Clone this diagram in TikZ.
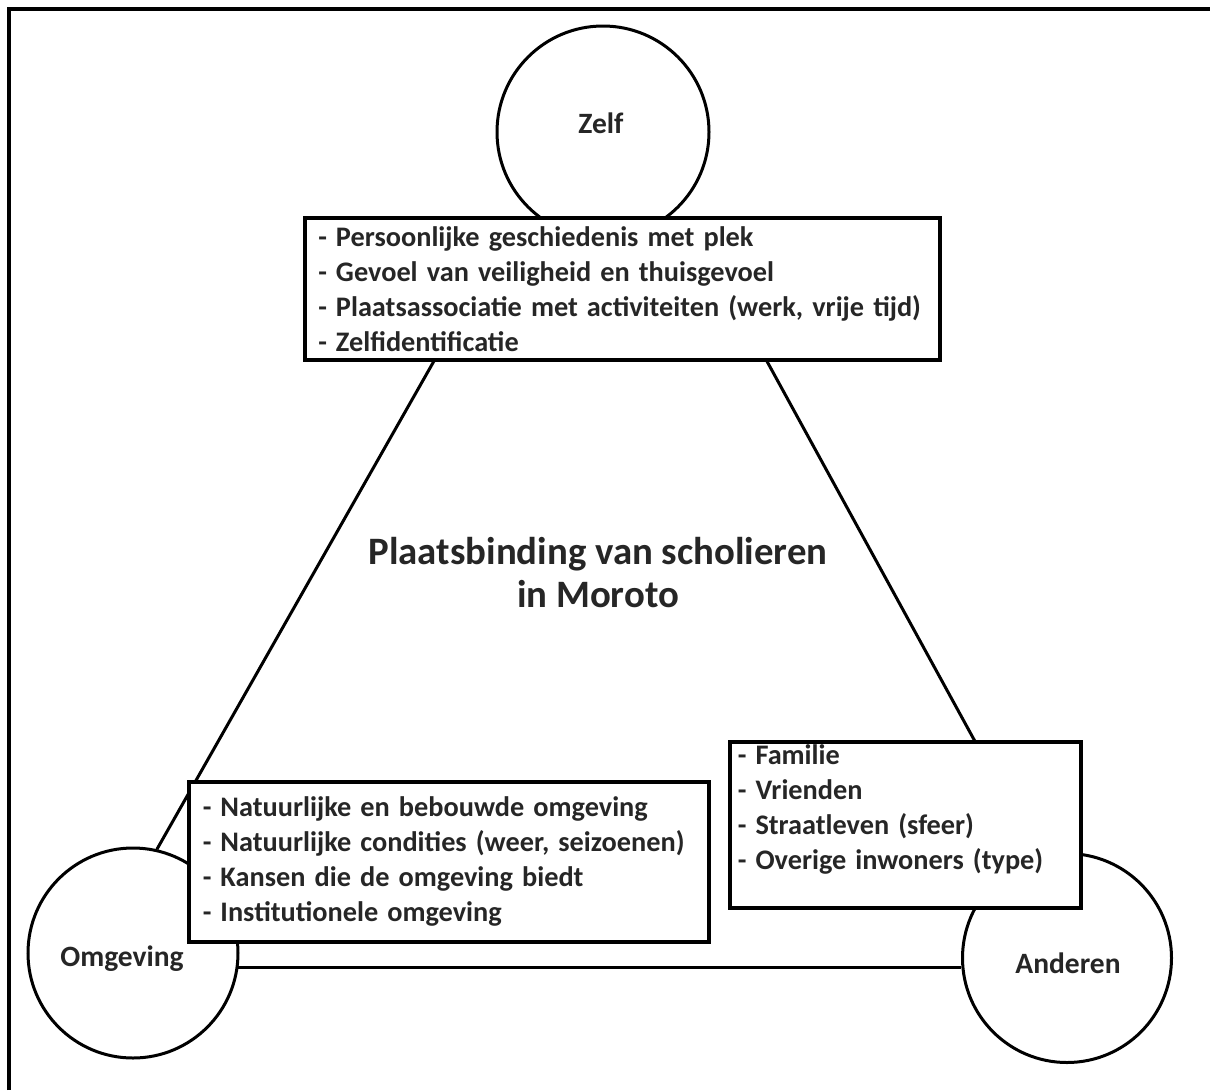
\documentclass[tikz,border=0pt]{standalone}
\usepackage{fontspec}
\usetikzlibrary{calc}
\setmainfont{Carlito}
\begin{document}
\begin{tikzpicture}[x=1pt,y=-1pt,
  circ/.style={circle, draw, line width=3pt, fill=white, minimum size=#1, inner sep=0pt},
  circlabel/.style={font=\bfseries\fontsize{29.5}{34}\selectfont, text=black!85, inner sep=0pt},
  listbox/.style={draw, line width=3.5pt, fill=white, anchor=north west, align=flush left,
    inner ysep=0pt, font=\bfseries\fontsize{28.3}{35}\selectfont, text=black!85,
    execute at begin node={\spaceskip=9.1pt\relax}},
  conn/.style={line width=3pt},
  frameline/.style={line width=4pt}]
\useasboundingbox (0,0) rectangle (1210,1090);
\draw[frameline] (9,1090) -- (9,9) -- (1210,9);

\node[circ=212pt] (zelf) at (603,132) {};
\node[circ=210pt] (omg) at (133,953) {};
\node[circ=209pt] (and) at (1067,958) {};
\node[circlabel] (zelfl) at (601,123) {Zelf};
\node[circlabel] (omgl) at (122,959) {Omgeving};
\node[circlabel] (andl) at (1068,963) {Anderen};

\draw[conn] ($(zelf.222.7)!0.1!(omg.77.5)$) -- (omg.77.5);
\draw[conn] ($(zelf.317)!0.1!(and.106)$) -- (and.106);
\draw[conn] (omg.-8) -- (omg.-8 -| and.west);

\node[listbox, minimum width=635pt, minimum height=142pt, inner xsep=13.5pt, text width=608pt] (tbox) at (303,216)
  {- Persoonlijke geschiedenis met plek\\
   - Gevoel van veiligheid en thuisgevoel\\
   - Plaatsassociatie met activiteiten (werk, vrije tijd)\\
   - Zelfidentificatie};
\node[listbox, minimum width=520pt, minimum height=160pt, inner xsep=14pt, text width=492pt] (lbox) at (187,780)
  {- Natuurlijke en bebouwde omgeving\\
   - Natuurlijke condities (weer, seizoenen)\\
   - Kansen die de omgeving biedt\\
   - Institutionele omgeving};
\node[listbox, minimum width=351pt, minimum height=166pt, inner xsep=8pt, text width=335pt] (rbox) at (728,740)
  {- Familie\\
   - Vrienden\\
   - Straatleven (sfeer)\\
   - Overige inwoners (type)\\
   \mbox{}};

\node[font=\bfseries\fontsize{38.8}{43}\selectfont, align=center, text=black!85] (title) at (598,573)
  {Plaatsbinding van scholieren\\in Moroto};
\end{tikzpicture}
\end{document}
